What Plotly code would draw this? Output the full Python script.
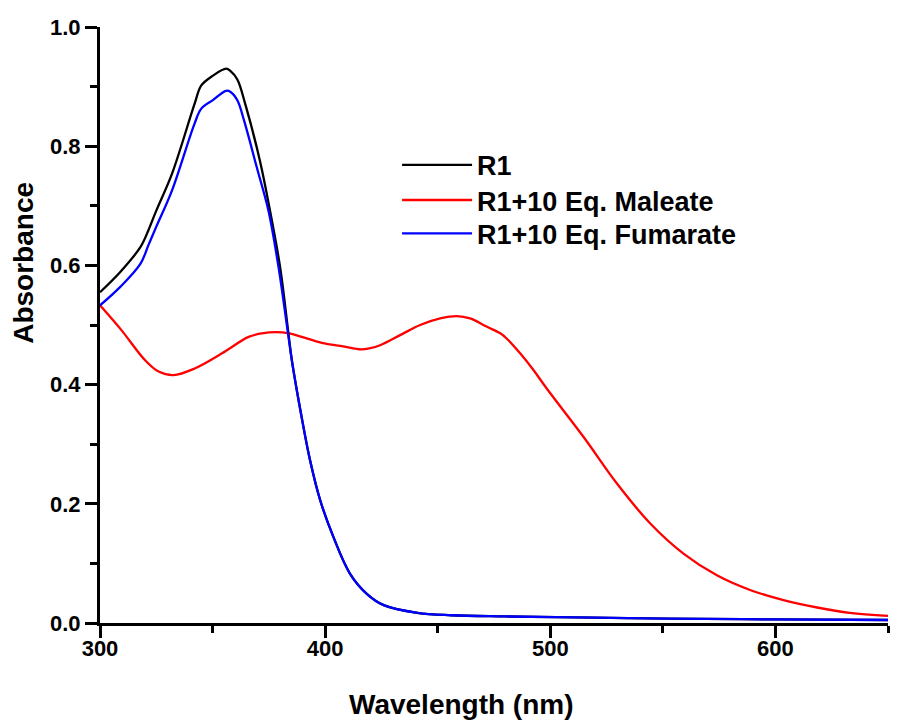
import plotly.graph_objects as go

# UV-Vis absorption spectra of R1 alone and with 10 eq. of maleate / fumarate
wl_r1 = [300, 309, 318, 321.5, 325, 332, 342, 345, 350, 356, 358, 361, 364.5, 371, 375.5,
         380, 383.7, 385.2, 389, 393.3, 397.8, 403.7, 411, 418.5, 426, 441, 456,
         480, 520, 552, 600, 650]
abs_r1 = [0.555, 0.589, 0.631, 0.659, 0.692, 0.754, 0.871, 0.902, 0.918, 0.930, 0.926, 0.912,
          0.871, 0.776, 0.692, 0.597, 0.486, 0.441, 0.357, 0.273, 0.206, 0.144, 0.083,
          0.049, 0.030, 0.017, 0.013, 0.011, 0.009, 0.0074, 0.006, 0.005]

wl_fum = [300, 309, 318, 321.5, 325, 332, 342, 345, 350, 356, 358, 361, 364, 369.6, 374.8,
          379.3, 383.5, 385.2, 389, 393.3, 397.8, 403.7, 411, 418.5, 426, 441, 456,
          480, 520, 552, 600, 650]
abs_fum = [0.533, 0.564, 0.603, 0.634, 0.665, 0.726, 0.838, 0.863, 0.877, 0.893, 0.891, 0.877,
           0.843, 0.765, 0.692, 0.597, 0.486, 0.441, 0.357, 0.273, 0.206, 0.144, 0.083,
           0.049, 0.030, 0.017, 0.013, 0.011, 0.009, 0.0074, 0.006, 0.005]

wl_mal = [300, 309.6, 320, 326, 332.6, 342, 354, 366, 372, 378, 384, 389.6, 398.5,
          408, 416, 420, 424.4, 433.3, 442.2, 451.1, 458.5, 464.4, 471.9, 477.8, 480.7,
          486.7, 492.6, 498.5, 514.8, 529.6, 544.4, 559.3, 574, 589, 604, 618.5,
          633, 650]
abs_mal = [0.533, 0.491, 0.441, 0.422, 0.416, 0.427, 0.452, 0.480, 0.486, 0.488, 0.486,
           0.480, 0.470, 0.464, 0.459, 0.461, 0.466, 0.483, 0.500, 0.511, 0.515, 0.511,
           0.497, 0.486, 0.477, 0.452, 0.424, 0.393, 0.312, 0.234, 0.167, 0.116,
           0.080, 0.055, 0.038, 0.026, 0.017, 0.012]

names = ["R1", "R1+10 Eq. Maleate", "R1+10 Eq. Fumarate"]

x_major = [300, 400, 500, 600]
x_minor = [350, 450, 550, 650]
y_major = [0.0, 0.2, 0.4, 0.6, 0.8, 1.0]
y_minor = [0.1, 0.3, 0.5, 0.7, 0.9]

FONT = "Liberation Sans, Arial, sans-serif"
LW = 2.3
SMOOTH = 1.0

fig = go.Figure()
fig.add_trace(go.Scatter(x=wl_mal, y=abs_mal, mode="lines", name=names[1], legend="legend2",
                         line=dict(color="#ff0000", width=LW, shape="spline", smoothing=SMOOTH)))
fig.add_trace(go.Scatter(x=wl_r1, y=abs_r1, mode="lines", name=names[0], legend="legend",
                         line=dict(color="#000000", width=LW, shape="spline", smoothing=SMOOTH)))
fig.add_trace(go.Scatter(x=wl_fum, y=abs_fum, mode="lines", name=names[2], legend="legend3",
                         line=dict(color="#0000ff", width=LW, shape="spline", smoothing=SMOOTH)))

tick_font = dict(family=FONT, size=22, color="black", weight="bold")
axis_style = dict(showline=True, linecolor="black", linewidth=3,
                  ticks="outside", ticklen=12, tickwidth=3, tickcolor="black",
                  showgrid=False, zeroline=False, tickfont=tick_font)
minor_style = dict(ticks="outside", ticklen=7, tickwidth=3, tickcolor="black",
                   showgrid=False, tickmode="array")

legend_common = dict(xanchor="left", yanchor="middle", bgcolor="rgba(0,0,0,0)",
                     itemwidth=70, borderwidth=0,
                     font=dict(family=FONT, size=27, color="black", weight="bold"))
LEG_X = 0.377

fig.update_layout(
    width=902, height=722,
    margin=dict(l=100, r=14, t=27, b=99),
    paper_bgcolor="white", plot_bgcolor="white",
    showlegend=True,
    xaxis=dict(range=[300, 650], tickmode="array", tickvals=x_major,
               ticktext=[str(v) for v in x_major], ticklabelstandoff=-8,
               minor=dict(tickvals=x_minor, **minor_style), **axis_style),
    yaxis=dict(range=[0, 1.0], tickmode="array", tickvals=y_major,
               ticktext=[f"{v:.1f}" for v in y_major],
               minor=dict(tickvals=y_minor, **minor_style), **axis_style),
    legend=dict(x=LEG_X, y=0.768, **legend_common),
    legend2=dict(x=LEG_X, y=0.709, **legend_common),
    legend3=dict(x=LEG_X, y=0.653, **legend_common),
    annotations=[
        dict(text="Wavelength (nm)", xref="paper", yref="paper", x=0.459, y=-0.137,
             xanchor="center", yanchor="middle", showarrow=False,
             font=dict(family=FONT, size=28, color="black", weight="bold")),
        dict(text="Absorbance", xref="paper", yref="paper", x=-0.098, y=0.604,
             xanchor="center", yanchor="middle", showarrow=False, textangle=-90,
             font=dict(family=FONT, size=28, color="black", weight="bold")),
    ],
)

fig.write_html("out.html")
